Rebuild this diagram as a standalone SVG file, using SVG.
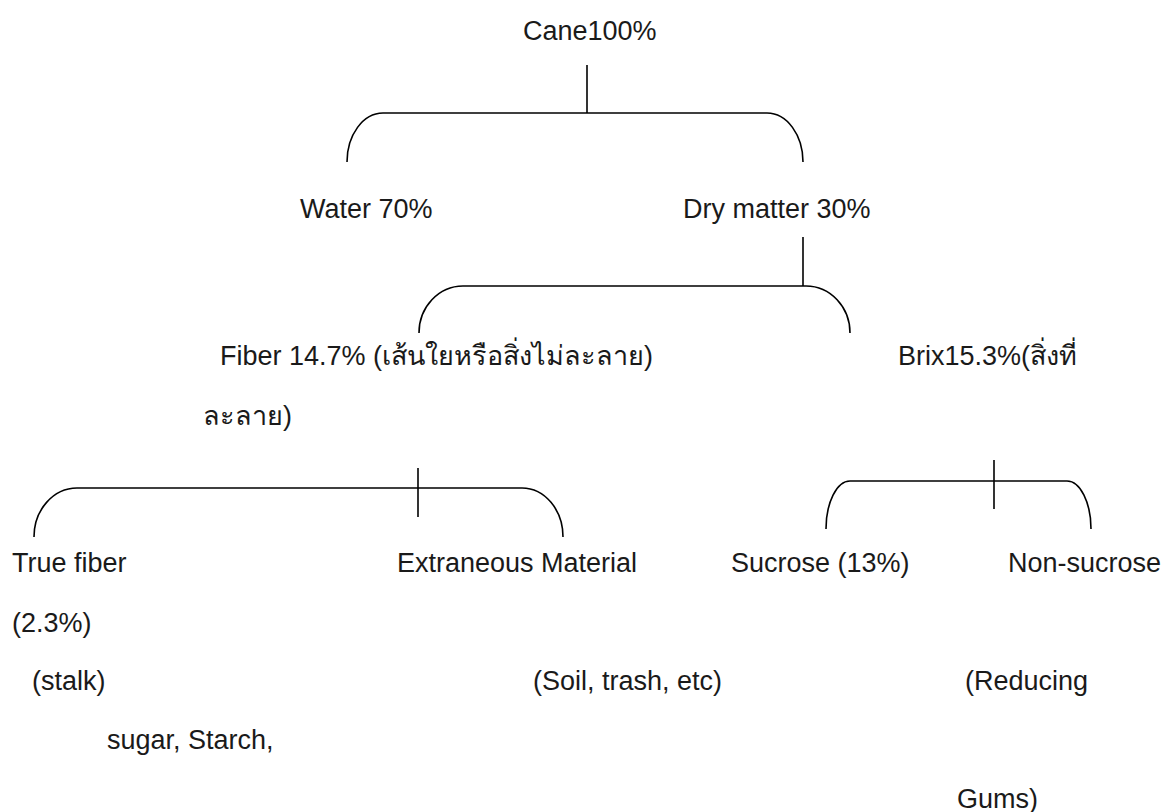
<svg xmlns="http://www.w3.org/2000/svg" width="1168" height="812" viewBox="0 0 1168 812">
<style>
.t{font-family:"Liberation Sans","Noto Sans",Arial,sans-serif;font-size:27px;fill:#1a1a1a}
.c{fill:none;stroke:#000;stroke-width:1.6}
</style>
<rect width="1168" height="812" fill="#fff"/>
<g id="connectors">
<path class="c" d="M587,65 V113"/>
<path class="c" d="M347,162 A36,49 0 0 1 383,113 H767 A36,49 0 0 1 803,162"/>
<path class="c" d="M803,237 V286"/>
<path class="c" d="M419,333 A44,47 0 0 1 463,286 H806 A44,47 0 0 1 850,333"/>
<path class="c" d="M418,468 V517"/>
<path class="c" d="M34,537 A43,49 0 0 1 77,488 H522 A41,49 0 0 1 563,537"/>
<path class="c" d="M994,460 V509"/>
<path class="c" d="M826,529 A24,48 0 0 1 850,481 H1067 A24,48 0 0 1 1091,529"/>
</g>
<g id="cane"><text class="t" x="523" y="40">Cane100%</text></g>
<g id="water"><text class="t" x="300" y="218">Water 70%</text></g>
<g id="drymatter"><text class="t" x="683" y="218">Dry matter 30%</text></g>
<g id="fiber"><text class="t" x="220" y="365">Fiber 14.7% (เส้นใยหรือสิ่งไม่ละลาย)</text>
<text class="t" x="203" y="425">ละลาย)</text></g>
<g id="brix"><text class="t" x="898" y="365">Brix15.3%(สิ่งที่</text></g>
<g id="truefiber"><text class="t" x="12" y="572">True fiber</text>
<text class="t" x="12" y="632">(2.3%)</text>
<text class="t" x="32" y="690">(stalk)</text>
<text class="t" x="107" y="749">sugar, Starch,</text></g>
<g id="extraneous"><text class="t" x="397" y="572">Extraneous Material</text>
<text class="t" x="533" y="690">(Soil, trash, etc)</text></g>
<g id="sucrose"><text class="t" x="731" y="572">Sucrose (13%)</text></g>
<g id="nonsucrose"><text class="t" x="1008" y="572">Non-sucrose</text>
<text class="t" x="965" y="690">(Reducing</text>
<text class="t" x="957" y="808">Gums)</text></g>
</svg>
